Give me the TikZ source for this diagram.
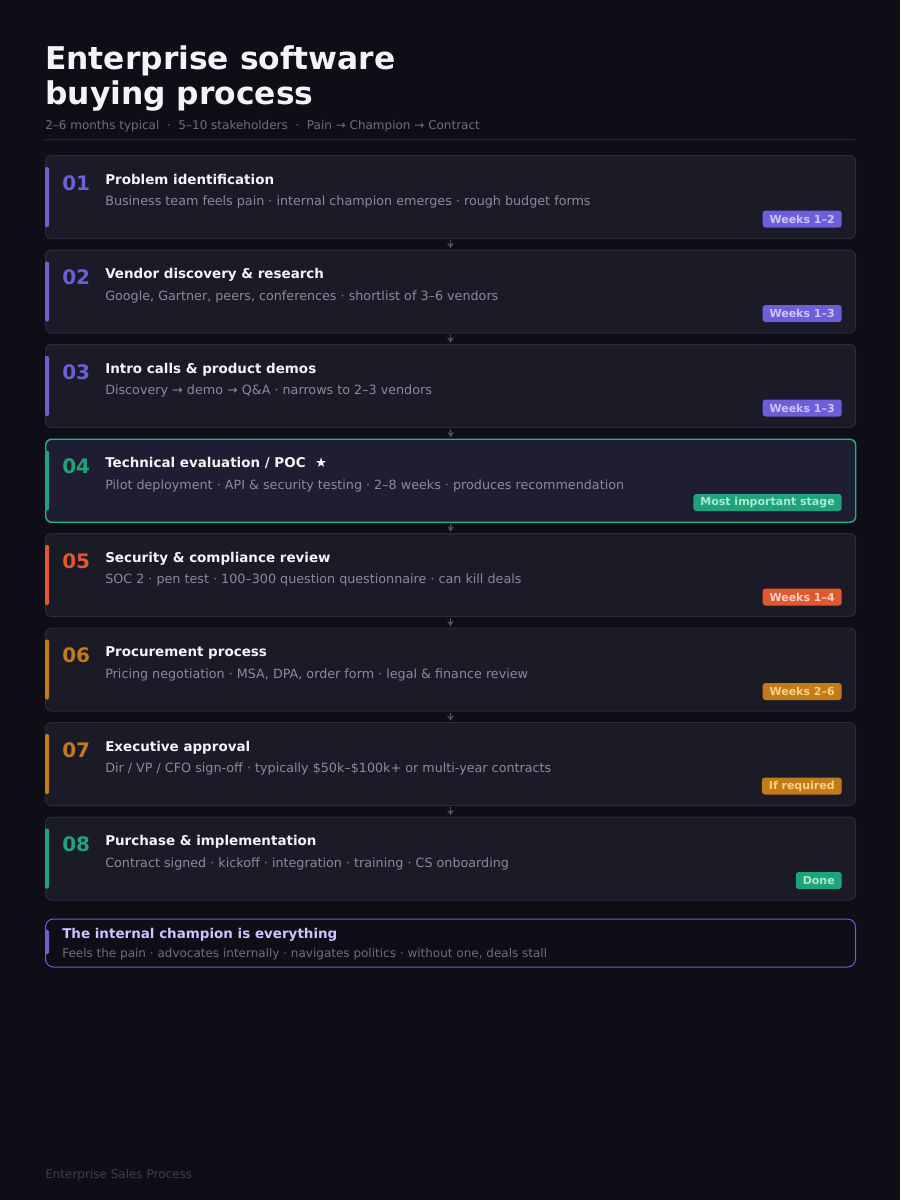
\documentclass[tikz,border=0pt]{standalone}
\usepackage{fontspec}
\setmainfont{DejaVu Sans}
\usetikzlibrary{arrows.meta,positioning}

\definecolor{bgcol}{HTML}{0F0E17}
\definecolor{cardfill}{HTML}{1B1A27}
\definecolor{cardline}{HTML}{2B2A3E}
\definecolor{keyfill}{HTML}{1E1D31}
\definecolor{purp}{HTML}{6C5FD8}
\definecolor{purptxt}{HTML}{CBC4FF}
\definecolor{grn}{HTML}{1FA37A}
\definecolor{grnline}{HTML}{22B384}
\definecolor{grntxt}{HTML}{A8EBD0}
\definecolor{orng}{HTML}{E0582F}
\definecolor{orngtxt}{HTML}{FFD2C0}
\definecolor{ambr}{HTML}{C47A16}
\definecolor{ambrtxt}{HTML}{F5D38C}
\definecolor{titlecol}{HTML}{F4F4F8}
\definecolor{desccol}{HTML}{8A8A9C}
\definecolor{subcol}{HTML}{6E6E82}
\definecolor{footcol}{HTML}{3E3D56}
\definecolor{arrcol}{HTML}{50506A}

\tikzset{
  card/.style={draw=cardline, fill=cardfill, line width=0.75pt, rounded corners=4.5pt,
    minimum width=607.5pt, minimum height=62.25pt, inner sep=0pt, anchor=north west},
  stepnum/.style={anchor=base west, font=\bfseries\fontsize{15}{18}\selectfont, inner sep=0pt},
  steptitle/.style={anchor=base west, text=titlecol, font=\bfseries\fontsize{10.1}{12}\selectfont, inner sep=0pt},
  stepdesc/.style={anchor=base west, text=desccol, font=\fontsize{9.55}{12}\selectfont, inner sep=0pt},
  badge/.style={anchor=east, rounded corners=2.25pt, inner xsep=5.25pt, inner ysep=0pt,
    minimum height=12.75pt, font=\bfseries\fontsize{8.25}{10}\selectfont},
  flow/.style={draw=arrcol, line width=1pt, -{Stealth[length=4pt,width=5pt]},
    shorten <=1pt, shorten >=1pt}
}

\begin{document}
\begin{tikzpicture}[x=0.75pt, y=-0.75pt]
  \fill[bgcol] (0,0) rectangle (900,1200);
  \useasboundingbox (0,0) rectangle (900,1200);

  % heading
  \node[anchor=base west, inner sep=0pt, text=titlecol, font=\bfseries\fontsize{23.5}{26}\selectfont] (head1) at (45,69) {Enterprise software};
  \node[anchor=base west, inner sep=0pt, text=titlecol, font=\bfseries\fontsize{23.5}{26}\selectfont] (head2) at (45,104) {buying process};
  \node[anchor=base west, inner sep=0pt, text=subcol, font=\fontsize{9}{11}\selectfont] (sub) at (45,129)
    {2–6 months typical \ · \ 5–10 stakeholders \ · \ Pain → Champion → Contract};
  \draw[cardline, line width=0.75pt] (45,139.5) -- (855,139.5);

  % stages
  \foreach \i/\col/\tcol/\ttl/\desc/\tag in {
    1/purp/purptxt/{Problem identification}/{Business team feels pain · internal champion emerges · rough budget forms}/{Weeks 1–2},
    2/purp/purptxt/{Vendor discovery \& research}/{Google, Gartner, peers, conferences · shortlist of 3–6 vendors}/{Weeks 1–3},
    3/purp/purptxt/{Intro calls \& product demos}/{Discovery → demo → Q\&A · narrows to 2–3 vendors}/{Weeks 1–3},
    4/grn/grntxt/{Technical evaluation / POC \ ★}/{Pilot deployment · API \& security testing · 2–8 weeks · produces recommendation}/{Most important stage},
    5/orng/orngtxt/{Security \& compliance review}/{SOC 2 · pen test · 100–300 question questionnaire · can kill deals}/{Weeks 1–4},
    6/ambr/ambrtxt/{Procurement process}/{Pricing negotiation · MSA, DPA, order form · legal \& finance review}/{Weeks 2–6},
    7/ambr/ambrtxt/{Executive approval}/{Dir / VP / CFO sign-off · typically \$50k–\$100k+ or multi-year contracts}/{If required},
    8/grn/grntxt/{Purchase \& implementation}/{Contract signed · kickoff · integration · training · CS onboarding}/{Done}} {
    \pgfmathsetmacro{\top}{155+94.5*(\i-1)}
    \ifnum\i=4
      \node[card, draw=grnline, fill=keyfill, line width=1.1pt] (c\i) at (45,\top) {};
    \else
      \node[card] (c\i) at (45,\top) {};
    \fi
    \fill[\col, rounded corners=1pt] (45,\top+12) rectangle (49,\top+72);
    \node[stepnum, text=\col] (n\i) at (62,\top+35) {0\i};
    \node[steptitle] (t\i) at (105,\top+29) {\ttl};
    \node[stepdesc] (d\i) at (105,\top+50.5) {\desc};
    \node[badge, fill=\col, text=\tcol] (b\i) at (842,\top+64) {\tag};
  }

  % flow between stages
  \foreach \i [evaluate=\i as \j using int(\i+1)] in {1,...,7}
    \draw[flow] (c\i.south) -- (c\j.north);

  % champion note
  \node[draw=purp, fill=bgcol, line width=0.75pt, rounded corners=6pt, minimum width=607.5pt,
    minimum height=36pt, inner sep=0pt, anchor=north west] (champ) at (45,918.5) {};
  \fill[purp, rounded corners=1pt] (45,930) rectangle (49,954);
  \node[anchor=base west, inner sep=0pt, text=purptxt, font=\bfseries\fontsize{10.1}{12}\selectfont] (champt) at (62,938)
    {The internal champion is everything};
  \node[anchor=base west, inner sep=0pt, text=subcol, font=\fontsize{9}{11}\selectfont] (champd) at (62,957)
    {Feels the pain · advocates internally · navigates politics · without one, deals stall};

  % footer
  \node[anchor=base west, inner sep=0pt, text=footcol, font=\fontsize{9}{11}\selectfont] (foot) at (45,1178)
    {Enterprise Sales Process};
\end{tikzpicture}
\end{document}
